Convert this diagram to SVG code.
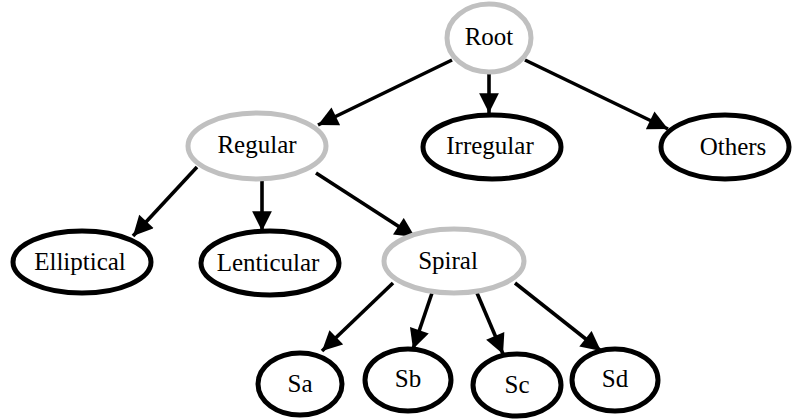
<svg xmlns="http://www.w3.org/2000/svg" width="792" height="419" viewBox="0 0 792 419">
<defs>
<marker id="ah" viewBox="0 0 10 10" refX="10" refY="5" markerWidth="6" markerHeight="5.5" markerUnits="strokeWidth" orient="auto">
<path d="M0,0 L10,5 L0,10 z" fill="#000"/>
</marker>
<style>
.n ellipse{fill:#fff;stroke:#000;stroke-width:5}
.g ellipse{stroke:#c0c0c0}
.n text{font-family:"Liberation Serif","DejaVu Serif",serif;font-size:25px;text-anchor:middle;fill:#000}
#edges line{stroke:#000;stroke-width:3.6;marker-end:url(#ah)}
</style>
</defs>
<rect width="792" height="419" fill="#fff"/>
<g id="edges">
<line x1="452" y1="60" x2="318" y2="125"/>
<line x1="489" y1="72" x2="489" y2="113"/>
<line x1="525" y1="60" x2="668" y2="129"/>
<line x1="197" y1="167" x2="133" y2="236"/>
<line x1="262" y1="180" x2="262" y2="231"/>
<line x1="316" y1="173" x2="415" y2="237"/>
<line x1="393" y1="283" x2="322" y2="351"/>
<line x1="432" y1="293" x2="413" y2="349"/>
<line x1="477" y1="293" x2="503" y2="354"/>
<line x1="515" y1="283" x2="601" y2="351"/>
</g>
<g id="root" class="n g"><ellipse cx="489" cy="38" rx="42" ry="34"/><text x="489" y="45">Root</text></g>
<g id="regular" class="n g"><ellipse cx="257" cy="146" rx="69" ry="33"/><text x="257" y="153">Regular</text></g>
<g id="irregular" class="n"><ellipse cx="492" cy="147" rx="69" ry="32"/><text x="490" y="154">Irregular</text></g>
<g id="others" class="n"><ellipse cx="725" cy="147" rx="64" ry="32"/><text x="733" y="155">Others</text></g>
<g id="elliptical" class="n"><ellipse cx="82" cy="262" rx="69" ry="31"/><text x="80" y="270">Elliptical</text></g>
<g id="lenticular" class="n"><ellipse cx="270" cy="263" rx="69" ry="32"/><text x="268" y="271">Lenticular</text></g>
<g id="spiral" class="n g"><ellipse cx="454" cy="261" rx="70" ry="32"/><text x="448" y="269">Spiral</text></g>
<g id="sa" class="n"><ellipse cx="300" cy="384" rx="42" ry="31"/><text x="300" y="392">Sa</text></g>
<g id="sb" class="n"><ellipse cx="408" cy="380" rx="43" ry="31"/><text x="408" y="387">Sb</text></g>
<g id="sc" class="n"><ellipse cx="517" cy="385" rx="44" ry="31"/><text x="517" y="393">Sc</text></g>
<g id="sd" class="n"><ellipse cx="615" cy="380" rx="43" ry="31"/><text x="615" y="387">Sd</text></g>
</svg>
